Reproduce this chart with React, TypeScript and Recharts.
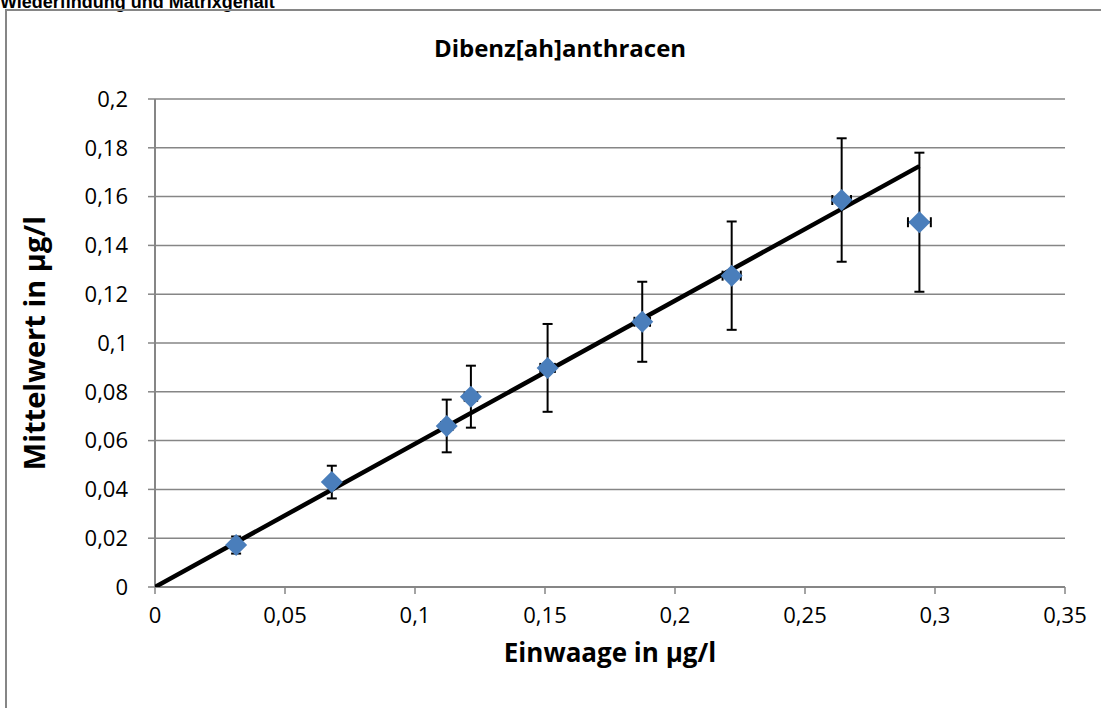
import React from 'react';
import { ScatterChart, Scatter, XAxis, YAxis, CartesianGrid, ErrorBar, Label } from 'recharts';

const einwaage = [0.0312, 0.068, 0.1122, 0.1215, 0.151, 0.1874, 0.2218, 0.2641, 0.294];
const mittelwert = [0.0172, 0.043, 0.066, 0.078, 0.0898, 0.1087, 0.1276, 0.1586, 0.1495];
const fehlerY = [0.0035, 0.0067, 0.0108, 0.0127, 0.018, 0.0164, 0.0222, 0.0253, 0.0285];
const fehlerX = [0.0008, 0.0015, 0.0022, 0.0024, 0.0028, 0.003, 0.0035, 0.0036, 0.0044];

// Ausgleichsgerade
const trendX = [0, 0.294];
const trendY = [0, 0.1725];

const xTicks = [0, 0.05, 0.1, 0.15, 0.2, 0.25, 0.3, 0.35];
const yTicks = [0, 0.02, 0.04, 0.06, 0.08, 0.1, 0.12, 0.14, 0.16, 0.18, 0.2];

const punkte = einwaage.map((x, i) => ({ x, y: mittelwert[i], errY: fehlerY[i], errX: fehlerX[i] }));
const gerade = trendX.map((x, i) => ({ x, y: trendY[i] }));

const FONT = '"Open Sans", sans-serif';
const GRAU = '#868686';

const komma = (v: number) => String(v).replace('.', ',');

const Raute = (props: any) => {
  const { cx, cy } = props;
  if (cx == null || cy == null) return <g />;
  const r = 11;
  return <polygon points={`${cx},${cy - r} ${cx + r},${cy} ${cx},${cy + r} ${cx - r},${cy}`} fill="#4a7ebb" />;
};

const App: React.FC = () => {
  return (
    <div style={{ position: 'absolute', left: 0, top: 0, width: 1101, height: 708, overflow: 'hidden', background: '#fff', fontFamily: FONT }}>
      <div style={{ position: 'absolute', left: 0, top: -8, fontFamily: '"Liberation Sans", Arial, sans-serif', fontWeight: 'bold', fontSize: 18, whiteSpace: 'nowrap', color: '#000' }}>
        Wiederfindung und Matrixgehalt
      </div>
      <div style={{ position: 'absolute', left: 5, top: 9, width: 1200, height: 800, border: `2px solid ${GRAU}`, boxSizing: 'border-box', background: 'transparent' }} />
      <div style={{ position: 'absolute', left: 0, top: 31, width: 1120, textAlign: 'center', fontWeight: 'bold', fontSize: 24, color: '#000' }}>
        Dibenz[ah]anthracen
      </div>
      <div style={{ position: 'absolute', left: 0, top: 0 }}>
        <ScatterChart width={1101} height={708} margin={{ top: 99, right: 36, bottom: 61, left: 10 }}>
          <CartesianGrid horizontal vertical={false} stroke={GRAU} strokeWidth={1.5} />
          <XAxis
            type="number"
            dataKey="x"
            domain={[0, 0.35]}
            ticks={xTicks}
            tickFormatter={komma}
            height={60}
            tickSize={7}
            tickMargin={13}
            axisLine={{ stroke: GRAU, strokeWidth: 2 }}
            tickLine={{ stroke: GRAU, strokeWidth: 1.5 }}
            tick={{ fill: '#000', fontSize: 22, fontFamily: FONT }}
            allowDataOverflow
          >
            <Label
              content={({ viewBox }: any) => (
                <text x={viewBox.x + viewBox.width / 2} y={652} textAnchor="middle" dominantBaseline="central" fontFamily={FONT} fontWeight="bold" fontSize={26} fill="#000">
                  Einwaage in µg/l
                </text>
              )}
            />
          </XAxis>
          <YAxis
            type="number"
            dataKey="y"
            domain={[0, 0.2]}
            ticks={yTicks}
            tickFormatter={komma}
            width={145}
            tickSize={7}
            tickMargin={20}
            axisLine={{ stroke: GRAU, strokeWidth: 2 }}
            tickLine={{ stroke: GRAU, strokeWidth: 1.5 }}
            tick={{ fill: '#000', fontSize: 22, fontFamily: FONT }}
            allowDataOverflow
          >
            <Label
              content={({ viewBox }: any) => {
                const cy = viewBox.y + viewBox.height / 2;
                return (
                  <text x={33} y={cy} transform={`rotate(-90, 33, ${cy})`} textAnchor="middle" dominantBaseline="central" fontFamily={FONT} fontWeight="bold" fontSize={29} fill="#000">
                    Mittelwert in µg/l
                  </text>
                );
              }}
            />
          </YAxis>
          <Scatter data={gerade} line={{ stroke: '#000', strokeWidth: 4.5 }} lineType="joint" shape={() => <g />} isAnimationActive={false} />
          <Scatter data={punkte} shape={Raute} isAnimationActive={false}>
            <ErrorBar dataKey="errY" direction="y" width={5} stroke="#000" strokeWidth={2} />
            <ErrorBar dataKey="errX" direction="x" width={5} stroke="#000" strokeWidth={2} />
          </Scatter>
        </ScatterChart>
      </div>
    </div>
  );
};

export default App;
